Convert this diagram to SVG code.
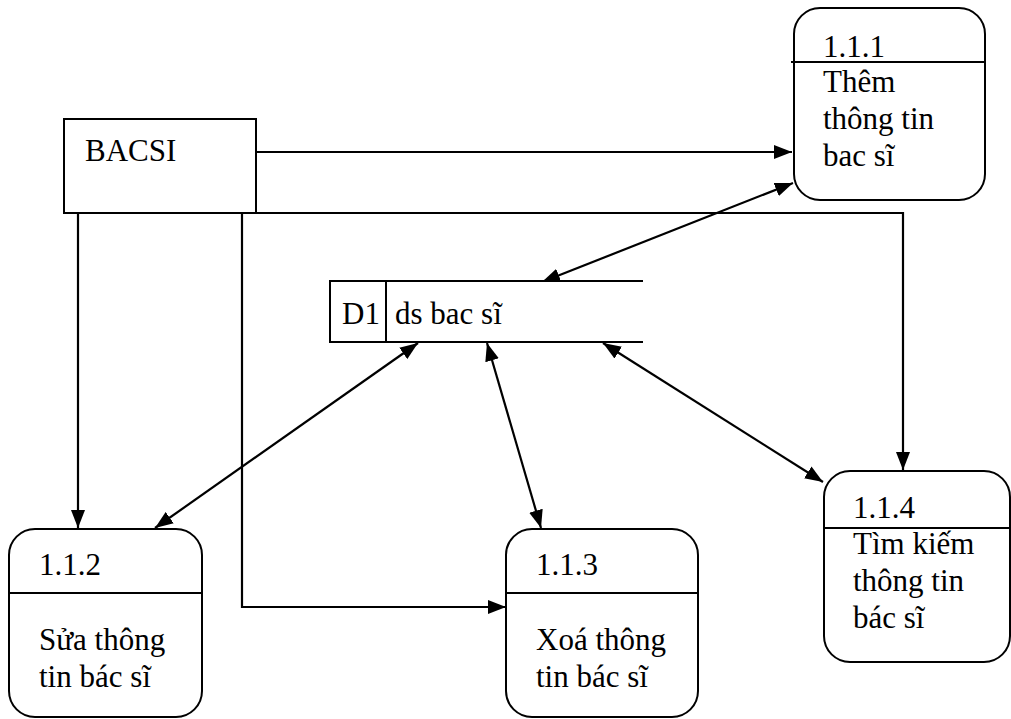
<svg xmlns="http://www.w3.org/2000/svg" width="1011" height="719" viewBox="0 0 1011 719">
  <style>
    .shape { fill: #fff; stroke: #000; stroke-width: 2; }
    .rule { fill: none; stroke: #000; stroke-width: 2; }
    .flow { fill: none; stroke: #000; stroke-width: 2.2; }
    text { font-family: "Liberation Serif", "Tinos", "Times New Roman", "DejaVu Serif", serif; font-size: 31px; fill: #000; }
  </style>
  <defs>
    <marker id="head" viewBox="0 0 18 14" refX="18" refY="7" markerWidth="18" markerHeight="14" markerUnits="userSpaceOnUse" orient="auto">
      <path d="M0,0 L18,7 L0,14 Z" fill="#000"/>
    </marker>
    <marker id="tail" viewBox="0 0 18 14" refX="0" refY="7" markerWidth="18" markerHeight="14" markerUnits="userSpaceOnUse" orient="auto">
      <path d="M18,0 L0,7 L18,14 Z" fill="#000"/>
    </marker>
  </defs>

  <rect width="1011" height="719" fill="#fff"/>

  <!-- data flows -->
  <g id="connectors">
    <line class="flow" x1="256" y1="152" x2="792" y2="152" marker-end="url(#head)"/>
    <polyline class="flow" points="256,213 903,213 903,470" marker-end="url(#head)"/>
    <line class="flow" x1="78" y1="213" x2="78" y2="528" marker-end="url(#head)"/>
    <polyline class="flow" points="242,213 242,607 506,607" marker-end="url(#head)"/>
    <line class="flow" x1="542" y1="282" x2="793" y2="183" marker-start="url(#tail)" marker-end="url(#head)"/>
    <line class="flow" x1="418" y1="343" x2="155" y2="528" marker-start="url(#tail)" marker-end="url(#head)"/>
    <line class="flow" x1="487" y1="343" x2="541" y2="528" marker-start="url(#tail)" marker-end="url(#head)"/>
    <line class="flow" x1="603" y1="343" x2="823" y2="482" marker-start="url(#tail)" marker-end="url(#head)"/>
  </g>

  <!-- external entity -->
  <g id="bacsi">
    <rect class="shape" x="64" y="119" width="192" height="94"/>
    <text x="85" y="161">BACSI</text>
  </g>

  <!-- data store -->
  <g id="d1">
    <path class="shape" d="M643,281 L330,281 L330,342 L643,342"/>
    <line class="rule" x1="386" y1="281" x2="386" y2="342"/>
    <text x="342" y="324">D1</text>
    <text x="395" y="324">ds bac sĩ</text>
  </g>

  <!-- processes -->
  <g id="p111">
    <rect class="shape" x="794" y="8" width="191" height="192" rx="26"/>
    <line class="rule" x1="791" y1="62" x2="985" y2="62"/>
    <text x="823" y="57">1.1.1</text>
    <text x="823" y="92">Thêm</text>
    <text x="823" y="129">thông tin</text>
    <text x="823" y="166">bac sĩ</text>
  </g>

  <g id="p112">
    <rect class="shape" x="9" y="529" width="193" height="188" rx="26"/>
    <line class="rule" x1="9" y1="593" x2="202" y2="593"/>
    <text x="39" y="575">1.1.2</text>
    <text x="39" y="650">Sửa thông</text>
    <text x="39" y="687">tin bác sĩ</text>
  </g>

  <g id="p113">
    <rect class="shape" x="506" y="529" width="192" height="188" rx="26"/>
    <line class="rule" x1="506" y1="593" x2="698" y2="593"/>
    <text x="536" y="575">1.1.3</text>
    <text x="536" y="650">Xoá thông</text>
    <text x="536" y="687">tin bác sĩ</text>
  </g>

  <g id="p114">
    <rect class="shape" x="824" y="471" width="186" height="191" rx="26"/>
    <line class="rule" x1="824" y1="528" x2="1010" y2="528"/>
    <text x="853" y="518">1.1.4</text>
    <text x="853" y="554">Tìm kiếm</text>
    <text x="853" y="591">thông tin</text>
    <text x="853" y="628">bác sĩ</text>
  </g>
</svg>
